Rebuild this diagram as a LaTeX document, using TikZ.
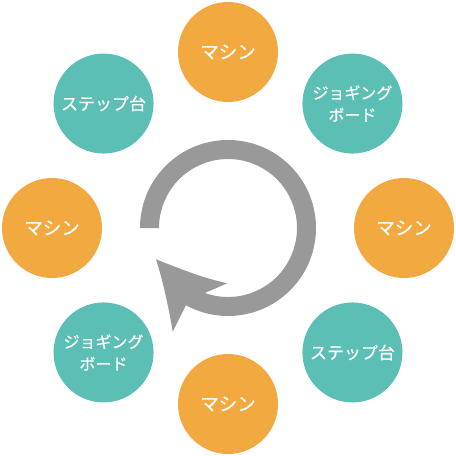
\documentclass[tikz,border=0pt]{standalone}
\usepackage{fontspec}
\newfontfamily\jp[FakeBold=0.6]{Noto Sans CJK JP}
\definecolor{morange}{HTML}{F2A93F}
\definecolor{mteal}{HTML}{5BBFB6}
\definecolor{mgray}{HTML}{999999}
\begin{document}
\begin{tikzpicture}[x=1pt,y=1pt,
  station/.style={circle,minimum size=100pt,inner sep=0pt,text=white,align=center,font=\jp\fontsize{17}{22}\selectfont},
  machine/.style={station,fill=morange,font=\jp\fontsize{18.5}{22}\selectfont},
  board/.style={station,fill=mteal},
  twoline/.style={font=\jp\fontsize{16}{22}\selectfont}]
\useasboundingbox (-228,-228) rectangle (228,228);
\node[machine] (m1) at (90:176) {マシン};
\node[board,twoline] (j1) at (45:176) {ジョギング\\ボード};
\node[machine] (m2) at (0:176) {マシン};
\node[board] (s1) at (-45:176) {ステップ台};
\node[machine] (m3) at (-90:176) {マシン};
\node[board,twoline] (j2) at (-135:176) {ジョギング\\ボード};
\node[machine] (m4) at (180:176) {マシン};
\node[board] (s2) at (135:176) {ステップ台};
% circular arrow
\coordinate (A) at (-72,-31.3);
\coordinate (B) at (-0.7,-55.3);
\coordinate (D) at (-55.3,-103.7);
\fill[mgray] (180:88) arc[start angle=180,end angle=-118.6,radius=88]
  -- (D) .. controls (-60,-75) and (-66,-50) .. (A)
  .. controls (-45,-42) and (-25,-50) .. (B)
  -- (-109.6:69) arc[start angle=-109.6,end angle=180,radius=69] -- cycle;
\end{tikzpicture}
\end{document}
